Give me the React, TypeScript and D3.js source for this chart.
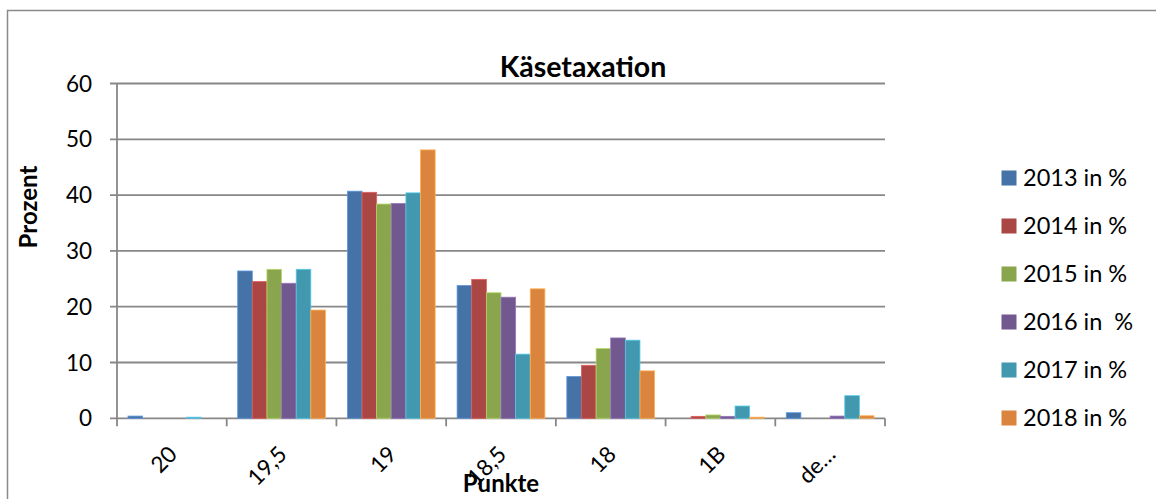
import React from "react";
import * as d3 from "d3";

const categories = ["20", "19,5", "19", "18,5", "18", "1B", "de…"];
const seriesNames = ["2013 in %", "2014 in %", "2015 in %", "2016 in  %", "2017 in %", "2018 in %"];
const s2013 = [0.4, 26.4, 40.7, 23.8, 7.5, 0, 1.0];
const s2014 = [0, 24.5, 40.5, 24.9, 9.5, 0.35, 0];
const s2015 = [0, 26.7, 38.4, 22.5, 12.5, 0.6, 0];
const s2016 = [0, 24.2, 38.5, 21.7, 14.4, 0.35, 0.4];
const s2017 = [0.2, 26.7, 40.4, 11.5, 14.0, 2.2, 4.05];
const s2018 = [0, 19.4, 48.1, 23.2, 8.5, 0.2, 0.45];
const yTicks = [0, 10, 20, 30, 40, 50, 60];
const colors = ["#4572A7", "#AA4643", "#89A54E", "#71588F", "#4198AF", "#DB843D"];

const series = [s2013, s2014, s2015, s2016, s2017, s2018];

export default function App() {
  const W = 1156, H = 499;
  const left = 117, right = 885, top = 83.5, bottom = 418.3;
  const x0 = d3.scaleBand<string>().domain(categories).range([left, right]).paddingInner(0).paddingOuter(0);
  const bw = x0.bandwidth() / 7.5;
  const y = d3.scaleLinear().domain([0, 60]).range([bottom, top]);
  const font = "Lato, 'Open Sans', sans-serif";
  const grid = "#878787";
  return (
    <svg width={W} height={H} style={{ position: "absolute", left: 0, top: 0 }}>
      <rect x={0} y={0} width={W} height={H} fill="#fff" />
      <rect x={7.5} y={10.5} width={W + 20} height={H + 20} fill="none" stroke="#8a8a8a" strokeWidth={1.5} />
      <text x={583} y={77} textAnchor="middle" fontFamily={font} fontWeight="bold" fontSize={28.5}>Käsetaxation</text>
      {yTicks.map((t) => (
        <g key={t}>
          <line x1={left - 7} x2={right} y1={y(t)} y2={y(t)} stroke={grid} strokeWidth={1.8} />
          <text x={92} y={y(t)} dy="0.36em" textAnchor="end" fontFamily={font} fontSize={22.5}>{t}</text>
        </g>
      ))}
      <line x1={left} x2={left} y1={top} y2={bottom} stroke={grid} strokeWidth={1.8} />
      {categories.map((c, i) => (
        <g key={c}>
          <line x1={x0(c)!} x2={x0(c)!} y1={bottom} y2={bottom + 8} stroke={grid} strokeWidth={1.8} />
          {i === categories.length - 1 && (
            <line x1={right} x2={right} y1={bottom} y2={bottom + 8} stroke={grid} strokeWidth={1.8} />
          )}
        </g>
      ))}
      {series.map((s, si) =>
        s.map((v, ci) => {
          if (v <= 0) return null;
          const bx = x0(categories[ci])! + 0.75 * bw + si * bw;
          return (
            <rect key={si + "-" + ci} x={bx} y={y(v)} width={bw} height={bottom - y(v)}
              fill={colors[si]} stroke={d3.color(colors[si])!.brighter(0.8).formatHex()} strokeWidth={0.8} />
          );
        })
      )}
      {categories.map((c) => {
        const cx = x0(c)! + x0.bandwidth() / 2;
        return (
          <text key={"l" + c} transform={`translate(${cx + 1},${450}) rotate(-45)`} dy="0.36em" textAnchor="end"
            fontFamily={font} fontSize={22.5}>{c}</text>
        );
      })}
      <text x={501} y={492} textAnchor="middle" fontFamily={font} fontWeight="bold" fontSize={24}>Punkte</text>
      <text transform={`translate(37,207) rotate(-90)`} textAnchor="middle" fontFamily={font} fontWeight="bold" fontSize={24}>Prozent</text>
      {seriesNames.map((n, i) => {
        const cy = 178 + i * 48;
        return (
          <g key={n}>
            <rect x={1001.5} y={cy - 7.5} width={15} height={15} fill={colors[i]} />
            <text x={1023} y={cy} dy="0.36em" fontFamily={font} fontSize={23.5} style={{ whiteSpace: "pre" }}>{n}</text>
          </g>
        );
      })}
    </svg>
  );
}
